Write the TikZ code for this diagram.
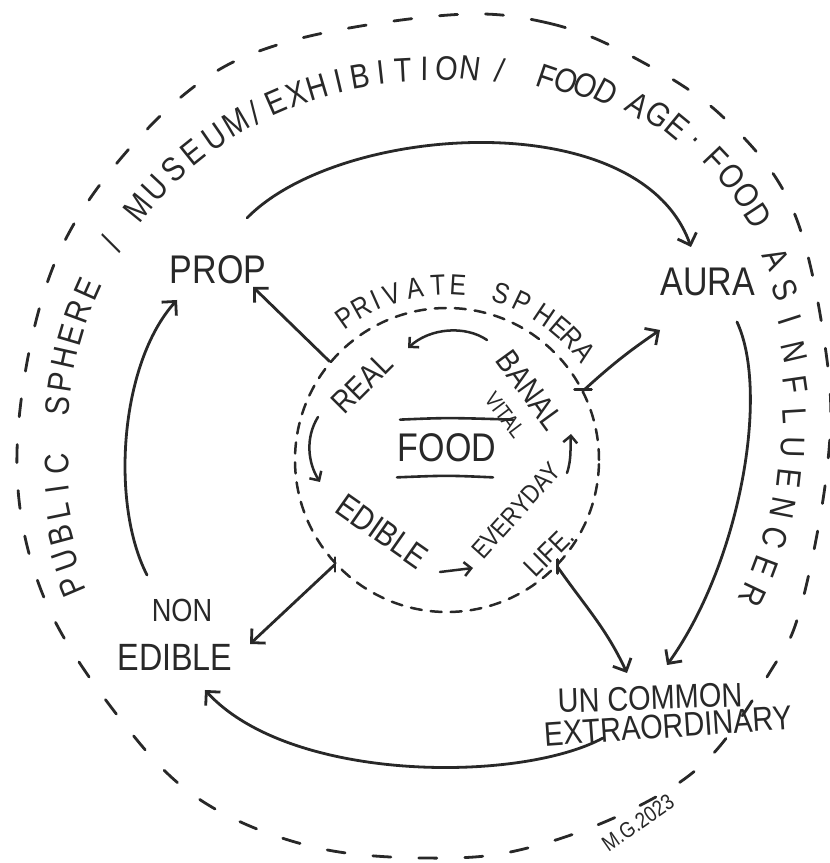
\documentclass[tikz,border=0pt]{standalone}
\usepackage{fontspec}
\setmainfont{Liberation Sans}
\newfontfamily\hand[FakeStretch=0.85]{Liberation Sans}
\usetikzlibrary{arrows.meta}
\definecolor{ink}{RGB}{40,40,40}
\begin{document}
\begin{tikzpicture}[x=1pt,y=1pt,line cap=round,line join=round,
  lbl/.style={inner sep=0pt, text=ink, font=\hand\fontsize{#1}{#1}\selectfont},
  conn/.style={draw=ink, line width=2.8pt, -{Straight Barb[length=10pt,width=20pt]}},
  small/.style={draw=ink, line width=2.5pt, -{Straight Barb[length=7pt,width=14pt]}},
  ink line/.style={draw=ink, line width=2.6pt},
  outerdash/.style={draw=ink, line width=2.8pt, dash pattern=on 18pt off 28pt},
  innerdash/.style={draw=ink, line width=2.5pt, dash pattern=on 11pt off 9pt}]

\fill[white] (0,0) rectangle (830,863);
\useasboundingbox (0,0) rectangle (830,863);

% outer dashed boundary (public sphere)
\draw[outerdash] plot[smooth cycle, tension=0.6] coordinates {(449,848) (548,840) (633,806) (723,746) (793,653) (827,503) (827,393) (800,253) (770,191) (710,106) (637,56) (539,18) (450,5) (318,15) (202,62) (121,143) (45,263) (17,393) (37,546) (87,660) (186,770) (287,821)};

% outer curved text, letter by letter
\foreach \a/\c in {203/P,199/U,195/B,191.5/L,188/I,184/C,
  175/S,171.2/P,167.4/H,163.6/E,159.8/R,156/E,
  148/{/},
  141/M,136.9/U,132.8/S,128.7/E,124.6/U,120.5/M,
  117.2/{/},
  113.5/E,110/X,106.6/H,103.2/I,99.8/B,96.4/I,93/T,89.6/I,86.2/O,82.5/N,
  78/{/},
  71/F,68/O,65/O,62/D,
  57/A,53.8/G,50.6/E,47.4/.,
  43.5/F,40.2/O,36.8/O,33.4/D,
  26.8/A,22.2/S,
  17.8/I,13/N,8.2/F,3.4/L,-1.4/U,-6.2/E,-11/N,-15.8/C,-20.6/E,-25.4/R}{
  \pgfmathsetmacro\rr{366+40*exp(-((\a-42)/30)^2)+max(0,0.8*(\a-185))}
  \path (422,425) ++(\a:\rr) node[lbl=34, rotate=\a-90] {\c};
}

% inner dashed circle (private sphere)
\node[circle, minimum size=304pt, inner sep=0pt, innerdash] (priv) at (447,403) {};
\foreach \a/\c in {125.3/P,119.2/R,114/I,108.4/V,100.7/A,93/T,86.4/E,
  71.8/S,64.5/P,56/H,49.6/E,44.3/R,38/A}{
  \path (447,403) ++(\a:175) node[lbl=29, rotate=\a-90] {\c};
}

% labels
\node[lbl=40] (prop) at (218,593) {PROP};
\node[lbl=40] (aura) at (708,581) {AURA};
\node[lbl=40] (food) at (447,415) {FOOD};
\node[lbl=32] (non) at (182,253) {NON};
\node[lbl=38] (edible) at (175,206) {EDIBLE};
\node[lbl=34, rotate=2] (uncommon) at (650,165) {UN COMMON};
\node[lbl=34, rotate=4] (extra) at (668,137) {EXTRAORDINARY};
\node[lbl=22, rotate=35] (mg) at (638,40) {M.G.2023};
\node[lbl=32, rotate=45] (real) at (362,480) {REAL};
\node[lbl=32, rotate=-54] (banal) at (530,473) {BANAL};
\node[lbl=22, rotate=-53] (vital) at (505,448) {VITAL};
\node[lbl=34, rotate=-35] (ediblein) at (382,332) {EDIBLE};
\node[lbl=26, rotate=48] (everyday) at (516,352) {EVERYDAY};
\node[lbl=28, rotate=45] (life) at (549,311) {LIFE.};

% underline / overline of FOOD
\draw[ink line] ([xshift=-47,yshift=14]food.north) .. controls ([xshift=0,yshift=16]food.north) .. ([xshift=66,yshift=14]food.north);
\draw[ink line] ([xshift=-50,yshift=-15]food.south) .. controls ([xshift=0,yshift=-13]food.south) .. ([xshift=46,yshift=-15]food.south);

% outer cycle connectors
\draw[conn] ([shift={(29,52)}]prop.center) .. controls (340,740) and (640,760) .. ([shift={(-17,35)}]aura.center);
\draw[conn] ([shift={(29,-40)}]aura.center) .. controls (770,470) and (740,300) .. ([shift={(17,33)}]uncommon.center);
\draw[conn] ([shift={(-65,-12)}]extra.center) .. controls (520,80) and (290,80) .. ([shift={(30,-33)}]edible.center);
\draw[conn] ([shift={(-35,35)}]non.center) .. controls (110,360) and (120,500) .. ([shift={(-41,-30)}]prop.center);

% spokes from the private sphere
\draw[conn] (priv.140) -- ([shift={(35,-17)}]prop.center);
\draw[conn] (priv.27) to[bend left=4] ([shift={(-48,-48)}]aura.center);
\draw[conn] (priv.223) -- ([shift={(75,13)}]edible.center);
\draw[conn] (priv.-44) to[out=-55,in=115] ([shift={(-23,25)}]uncommon.center);
\draw[ink line] ([yshift=-7]priv.223) -- ([yshift=7]priv.223);
\draw[ink line] ([yshift=-7]priv.-44) -- ([yshift=7]priv.-44);
\draw[ink line] ([xshift=-9,yshift=1]priv.27) -- ([xshift=8,yshift=1]priv.27);

% inner cycle arrows
\draw[small] ([shift={(-43,50)}]banal.center) .. controls (465,538) and (430,535) .. ([shift={(46,35)}]real.center);
\draw[small] ([shift={(-44,-34)}]real.center) .. controls (305,425) and (308,400) .. ([shift={(-62,49)}]ediblein.center);
\draw[small] ([shift={(58,-41)}]ediblein.center) -- ([shift={(-43,-57)}]everyday.center);
\draw[small] ([shift={(51,38)}]everyday.center) .. controls (572,405) and (570,418) .. ([shift={(41,-44)}]banal.center);
\end{tikzpicture}
\end{document}
